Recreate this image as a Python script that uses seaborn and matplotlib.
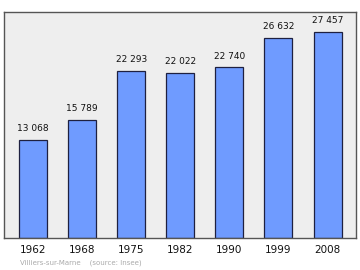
import matplotlib
matplotlib.use("Agg")
import matplotlib.pyplot as plt
import seaborn as sns
import pandas as pd

years = ["1962", "1968", "1975", "1982", "1990", "1999", "2008"]
population = [13068, 15789, 22293, 22022, 22740, 26632, 27457]
labels = ["13 068", "15 789", "22 293", "22 022", "22 740", "26 632", "27 457"]

df = pd.DataFrame({"year": years, "pop": population})

sns.set_style("white")
plt.rcParams['font.family'] = ['DejaVu Sans']

fig = plt.figure(figsize=(3.6, 2.7), dpi=100)
ax = fig.add_axes([4/360, 32/270, 352/360, 226/270])
ax.set_facecolor("#eeeeee")
sns.barplot(data=df, x="year", y="pop", ax=ax, color="#6f9bff", saturation=1,
            width=0.57, edgecolor="#1e2040", linewidth=0.9)
ax.set_xlim(-0.59, 6.58)
ax.set_ylim(0, 30130)
ax.set_yticks([])
ax.set_xlabel("")
ax.set_ylabel("")
ax.tick_params(axis="x", length=0, labelsize=7.5, pad=5, colors="#111111")
for s in ax.spines.values():
    s.set_color("#555555")
    s.set_linewidth(1.0)
for i, (v, t) in enumerate(zip(population, labels)):
    ax.text(i, v + 900, t, ha="center", va="bottom", fontsize=6.5, color="#111111")
fig.text(20/360, 1 - 263/270, "Villiers-sur-Marne    (source: Insee)", fontsize=5,
         color="#aaaaaa", va="center", ha="left")
fig.savefig("out.png", dpi=100)
